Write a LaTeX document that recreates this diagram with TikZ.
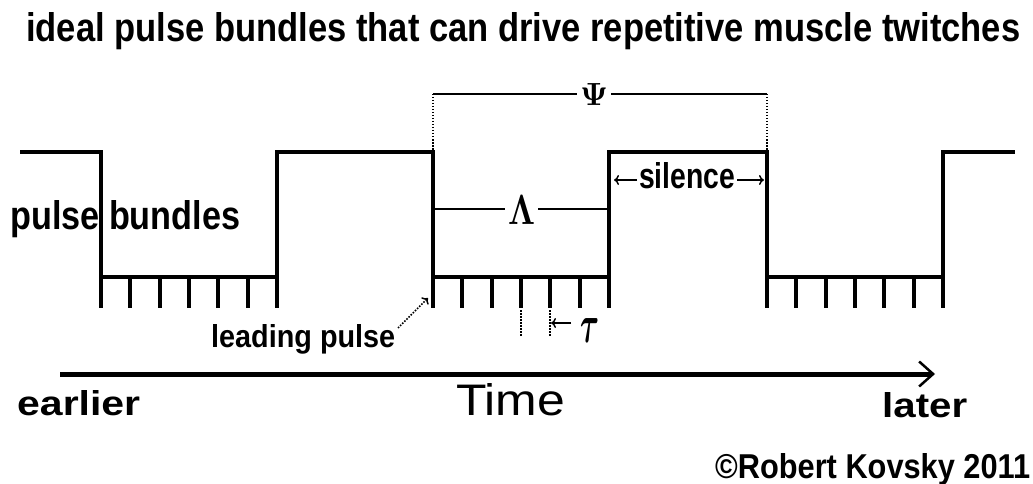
\documentclass[tikz,border=0pt]{standalone}
\usepackage{graphicx}
\usepackage{fontspec}
\setmainfont{Liberation Sans}
\usetikzlibrary{arrows.meta}
\newcommand{\fitto}[3]{\resizebox{#1pt}{#2pt}{#3}}
\newcommand{\fittot}[3]{\resizebox*{#1pt}{#2pt}{#3}}
\begin{document}
\begin{tikzpicture}[x=1pt,y=-1pt,
  wave/.style={line width=4pt, line join=miter},
  tickmark/.style={line width=4pt},
  thinline/.style={line width=1.5pt},
  dots/.style={line width=1.5pt, dash pattern=on 1.5pt off 1.5pt},
  smallarrow/.style={-{To[length=5pt,width=10pt]}},
  lbl/.style={inner sep=0pt, anchor=base west}]
\useasboundingbox[fill=white] (0,0) rectangle (1033,484);

% title
\node[lbl] (title) at (26,42) {\fitto{994}{29}{\bfseries ideal pulse bundles that can drive repetitive muscle twitches}};

% waveform
\draw[wave] (20,152) -- (101,152) -- (101,277) -- (277,277) -- (277,152)
  -- (433,152) -- (433,277) -- (609,277) -- (609,152) -- (767,152)
  -- (767,277) -- (943,277) -- (943,152) -- (1015,152);
\foreach \a in {101,433,767}
  \foreach \k in {0,...,6}
    \draw[tickmark] ({\a+\k*176/6},277) -- ++(0,31);

% pulse bundles label
\node[lbl] (pb) at (10,229) {\fitto{230}{29}{\bfseries pulse bundles}};

% Psi bracket
\coordinate (psiL) at (433,94);
\coordinate (psiR) at (767,94);
\coordinate (hiL) at (433,150);
\coordinate (hiR) at (767,150);
\node[lbl] (psi) at (580,106) {\fitto{28}{22}{\boldmath$\Psi$}};
\draw[thinline] (psiL) -- ([xshift=-3pt]psi.west |- psiL);
\draw[thinline] ([xshift=3pt]psi.east |- psiR) -- (psiR);
\draw[dots] (psiL) -- (hiL);
\draw[dots] (psiR) -- (hiR);

% Lambda bracket
\coordinate (lamL) at (433,209);
\coordinate (lamR) at (609,209);
\node[lbl] (lam) at (508,224) {\fitto{27}{29}{\boldmath$\Lambda$}};
\draw[thinline] (lamL) -- ([xshift=-3pt]lam.west |- lamL);
\draw[thinline] ([xshift=3pt]lam.east |- lamR) -- (lamR);

% silence
\coordinate (silL) at (614,180);
\coordinate (silR) at (764,180);
\node[lbl] (sil) at (639,189) {\fitto{96}{26}{\bfseries silence}};
\draw[thinline,smallarrow] ([xshift=-2pt]sil.west |- silL) -- (silL);
\draw[thinline,smallarrow] ([xshift=2pt]sil.east |- silR) -- (silR);

% tau
\coordinate (tauA) at (551,323);
\node[lbl] (tau) at (580,342) {\fittot{19}{24}{\boldmath$\tau$}};
\draw[thinline,smallarrow] ([xshift=-9pt]tau.west |- tauA) -- (tauA);
\coordinate (d1t) at (521,310);
\coordinate (d1b) at (521,337);
\coordinate (d2t) at (550,310);
\coordinate (d2b) at (550,337);
\draw[dots] (d1t) -- (d1b);
\draw[dots] (d2t) -- (d2b);

% leading pulse
\node[lbl] (lp) at (211,347) {\fitto{184}{23}{\bfseries leading pulse}};
\coordinate (lpT) at (398,328);
\coordinate (lpH) at (428,298);
\draw[dots,smallarrow] (lpT) -- (lpH);

% time axis
\coordinate (tA) at (60,374);
\coordinate (tB) at (935,374);
\draw[line width=5pt,-{Straight Barb[length=14pt,width=25pt,line width=2.5pt]}] (tA) -- (tB);
\node[lbl] (earlier) at (17,415) {\fitto{123}{25}{\bfseries earlier}};
\node[lbl] (time) at (456,415) {\fitto{109}{32}{Time}};
\node[lbl] (later) at (882,417) {\fitto{85}{25}{\bfseries later}};

% copyright
\node[lbl] (copy) at (715,478) {\fitto{315}{25}{\bfseries ©Robert Kovsky 2011}};
\end{tikzpicture}
\end{document}
